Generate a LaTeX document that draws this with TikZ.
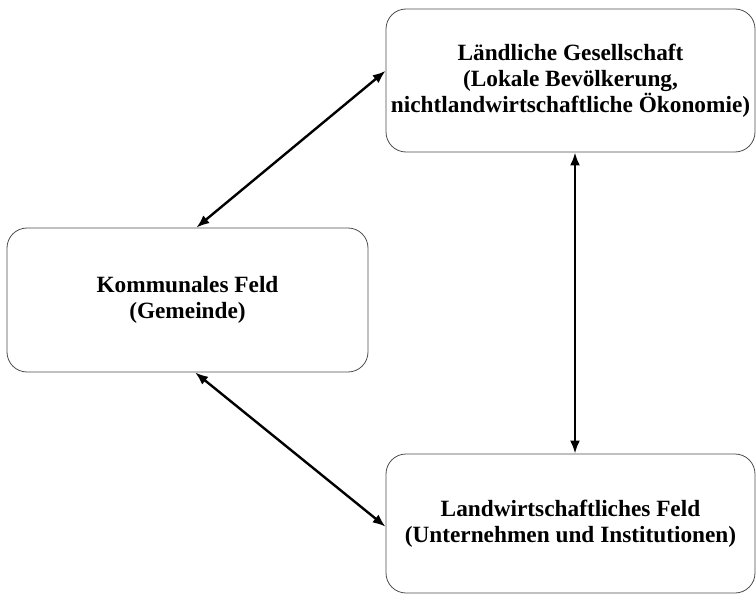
\documentclass[tikz,border=0pt]{standalone}
\usepackage{fontspec}
\setmainfont{Liberation Serif}
\usepackage{tikz}
\usetikzlibrary{arrows.meta}

\tikzset{
  feldbox/.style={draw=black!70, line width=0.8pt, rounded corners=20pt,
    align=center, inner sep=0pt, font=\bfseries\fontsize{23.3}{26}\selectfont},
  wechsel/.style={{Latex[length=13pt,width=10pt]}-{Latex[length=13pt,width=10pt]}, line width=2.4pt, black}
}

\begin{document}
\begin{tikzpicture}[x=1pt,y=-1pt]
                \useasboundingbox (0,0) rectangle (756,594);

                \node[feldbox, minimum width=369pt, minimum height=143pt] (gesell) at (570.5,80.5)
                    {Ländliche Gesellschaft\\(Lokale Bevölkerung,\\nichtlandwirtschaftliche Ökonomie)};
                \node[feldbox, minimum width=361pt, minimum height=144pt] (kommunal) at (187.5,300)
                    {Kommunales Feld\\(Gemeinde)};
                \node[feldbox, minimum width=369pt, minimum height=139pt] (landw) at (570.5,523.5)
                    {Landwirtschaftliches Feld\\(Unternehmen und Institutionen)};

                \draw[wechsel] (kommunal.83.3) -- (gesell.177.5);
                \draw[wechsel] (kommunal.276.7) -- (landw.181.6);
                \draw[wechsel] ([xshift=4.5pt]gesell.south) -- ([xshift=4.5pt]landw.north);
            \end{tikzpicture}
\end{document}
